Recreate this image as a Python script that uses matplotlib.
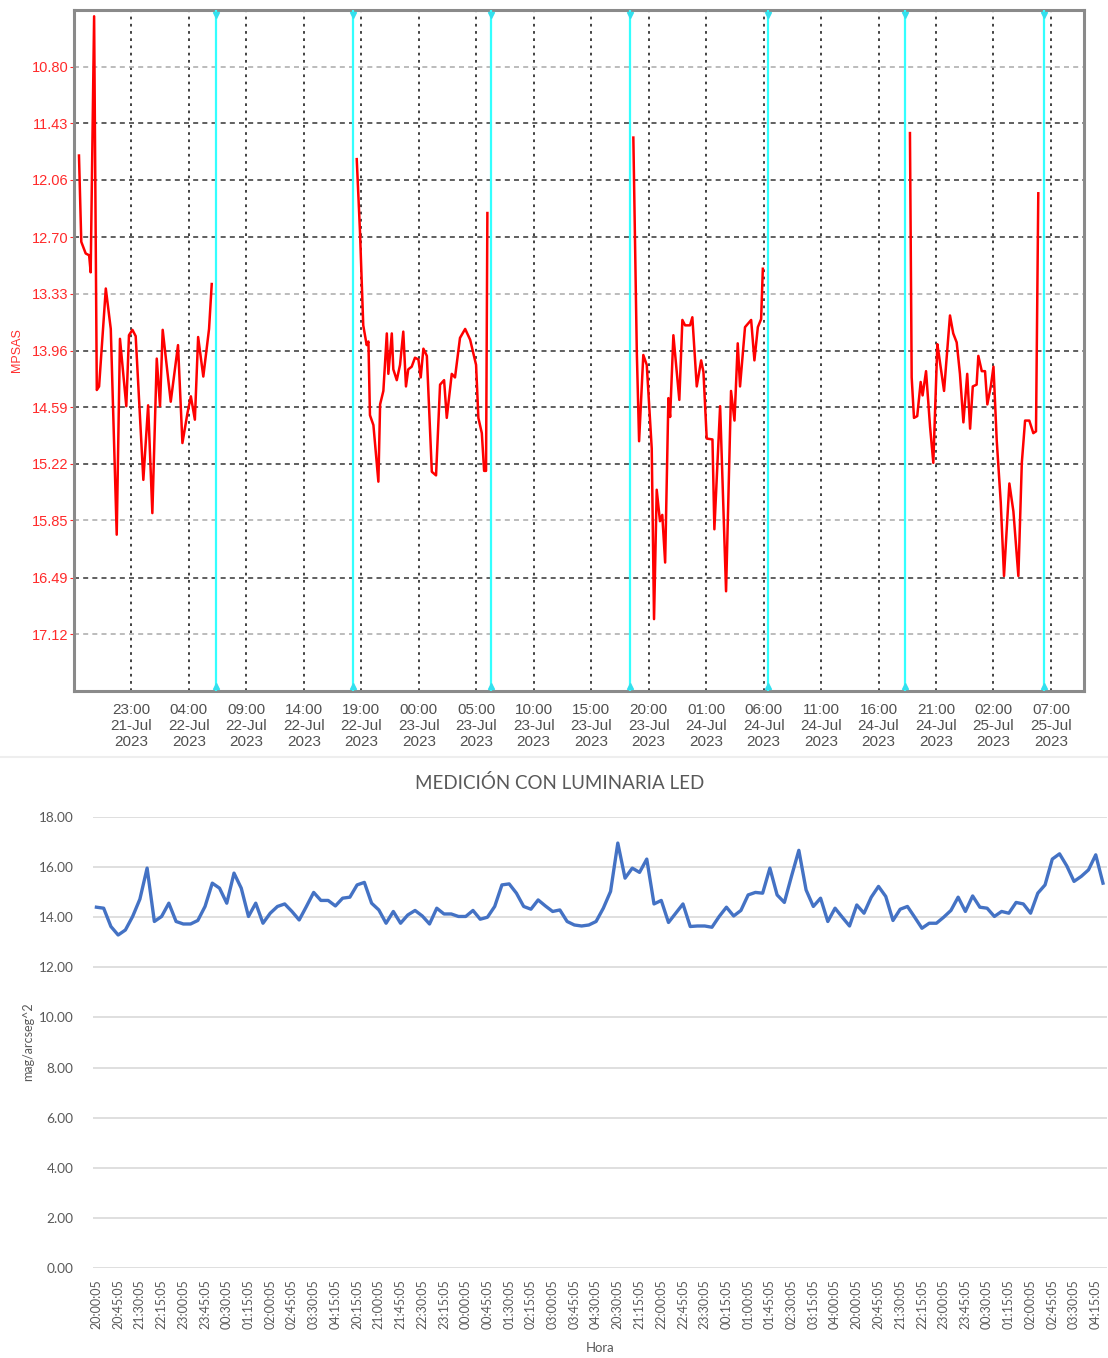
import numpy as np
import pandas as pd
import matplotlib
matplotlib.use('Agg')
import matplotlib.pyplot as plt
import matplotlib.dates as mdates

# ---------------- top panel: SQM readings per night (MPSAS) ----------------
night_dates = ['2023-07-21', '2023-07-22', '2023-07-23', '2023-07-24']

n1_time = ['18:26', '18:38', '19:01', '19:19', '19:27', '19:45', '19:59', '20:11', '20:46', '21:12',
           '21:43', '22:00', '22:33', '22:47', '23:05', '23:22', '00:02', '00:27', '00:49', '01:12',
           '01:29', '01:43', '02:25', '03:03', '03:26', '03:52', '04:10', '04:31', '04:48', '05:15',
           '05:45', '05:59']
n1_mpsas = [11.79, 12.75, 12.88, 12.90, 13.09, 10.24, 14.40, 14.36, 13.27, 13.72,
            16.01, 13.83, 14.58, 13.79, 13.73, 13.80, 15.40, 14.57, 15.77, 14.05,
            14.58, 13.73, 14.53, 13.90, 14.99, 14.66, 14.47, 14.73, 13.81, 14.25,
            13.72, 13.22]

n2_time = ['18:36', '18:53', '19:10', '19:28', '19:37', '19:45', '20:03', '20:29', '20:38', '20:55',
           '21:13', '21:21', '21:39', '21:47', '22:05', '22:22', '22:39', '22:53', '23:05', '23:23',
           '23:40', '23:58', '00:10', '00:24', '00:42', '01:08', '01:30', '01:51', '02:12', '02:26',
           '02:52', '03:09', '03:35', '04:02', '04:28', '04:59', '05:11', '05:29', '05:41', '05:51',
           '05:58']
n2_mpsas = [11.83, 12.64, 13.68, 13.90, 13.86, 14.68, 14.79, 15.42, 14.56, 14.41,
            13.77, 14.22, 13.77, 14.17, 14.29, 14.12, 13.75, 14.36, 14.17, 14.14,
            14.04, 14.06, 14.26, 13.94, 14.02, 15.31, 15.35, 14.34, 14.29, 14.71,
            14.22, 14.26, 13.82, 13.72, 13.84, 14.12, 14.71, 14.88, 15.30, 15.30,
            12.43]

n3_time = ['18:40', '18:58', '19:10', '19:32', '19:50', '20:16', '20:28', '20:42', '20:59', '21:11',
           '21:26', '21:43', '21:52', '22:09', '22:40', '22:56', '23:10', '23:36', '23:48', '00:11',
           '00:34', '00:46', '01:03', '01:33', '01:43', '02:13', '02:44', '03:10', '03:28', '03:45',
           '03:57', '04:23', '04:55', '05:12', '05:30', '05:47', '05:56']
n3_mpsas = [11.59, 13.97, 14.97, 14.01, 14.12, 15.05, 16.95, 15.51, 15.86, 15.79,
            16.32, 14.49, 14.70, 13.79, 14.51, 13.62, 13.68, 13.68, 13.59, 14.36,
            14.07, 14.20, 14.94, 14.95, 15.95, 14.58, 16.64, 14.41, 14.74, 13.88,
            14.36, 13.70, 13.62, 14.07, 13.70, 13.61, 13.05]

n4_time = ['18:44', '18:53', '19:05', '19:22', '19:40', '19:50', '20:08', '20:29', '20:46', '21:07',
           '21:16', '21:42', '22:13', '22:30', '22:48', '23:05', '23:23', '23:43', '23:58', '00:12',
           '00:32', '00:41', '00:59', '01:16', '01:28', '01:46', '02:00', '02:17', '02:38', '02:55',
           '03:23', '03:44', '04:10', '04:28', '04:45', '05:07', '05:28', '05:42', '05:54']
n4_mpsas = [11.54, 14.26, 14.71, 14.69, 14.31, 14.46, 14.19, 14.81, 15.21, 13.89,
            14.02, 14.41, 13.57, 13.77, 13.87, 14.22, 14.76, 14.22, 14.83, 14.36,
            14.34, 14.02, 14.19, 14.19, 14.56, 14.36, 14.14, 14.96, 15.65, 16.47,
            15.44, 15.75, 16.47, 15.21, 14.74, 14.74, 14.88, 14.86, 12.21]

# sunrise / sunset markers (cyan)
sun_events = ['2023-07-22 06:22', '2023-07-22 18:17', '2023-07-23 06:18', '2023-07-23 18:21',
              '2023-07-24 06:22', '2023-07-24 18:20', '2023-07-25 06:23']

mpsas_ticks = [10.80, 11.43, 12.06, 12.70, 13.33, 13.96, 14.59, 15.22, 15.85, 16.49, 17.12]

# ---------------- bottom panel: LED luminaire measurement ----------------
led_mag = [14.40, 14.36, 13.63, 13.29, 13.49, 14.03, 14.72, 15.96, 13.83, 14.03,
           14.56, 13.83, 13.73, 13.73, 13.87, 14.43, 15.36, 15.16, 14.56, 15.76,
           15.16, 14.03, 14.56, 13.76, 14.16, 14.43, 14.53, 14.23, 13.89, 14.43,
           14.99, 14.67, 14.67, 14.45, 14.76, 14.80, 15.29, 15.39, 14.56, 14.29,
           13.76, 14.23, 13.76, 14.09, 14.27, 14.05, 13.73, 14.36, 14.13, 14.13,
           14.03, 14.03, 14.27, 13.92, 14.00, 14.43, 15.29, 15.33, 14.96, 14.43,
           14.32, 14.69, 14.45, 14.23, 14.29, 13.83, 13.69, 13.65, 13.69, 13.83,
           14.36, 15.03, 16.96, 15.56, 15.96, 15.79, 16.32, 14.53, 14.67, 13.79,
           14.16, 14.53, 13.63, 13.65, 13.65, 13.60, 14.03, 14.40, 14.05, 14.27,
           14.89, 14.99, 14.96, 15.96, 14.89, 14.59, 15.65, 16.67, 15.09, 14.43,
           14.76, 13.83, 14.36, 14.00, 13.65, 14.49, 14.16, 14.80, 15.23, 14.83,
           13.87, 14.32, 14.43, 14.00, 13.56, 13.76, 13.76, 14.00, 14.27, 14.80,
           14.23, 14.85, 14.40, 14.36, 14.03, 14.23, 14.16, 14.59, 14.53, 14.16,
           14.96, 15.29, 16.32, 16.53, 16.05, 15.43, 15.63, 15.89, 16.49, 15.36]

hora_labels = ['20:00:05', '20:45:05', '21:30:05', '22:15:05', '23:00:05', '23:45:05', '00:30:05',
               '01:15:05', '02:00:05', '02:45:05', '03:30:05', '04:15:05', '20:15:05', '21:00:05',
               '21:45:05', '22:30:05', '23:15:05', '00:00:05', '00:45:05', '01:30:05', '02:15:05',
               '03:00:05', '03:45:05', '04:30:05', '20:30:05', '21:15:05', '22:00:05', '22:45:05',
               '23:30:05', '00:15:05', '01:00:05', '01:45:05', '02:30:05', '03:15:05', '04:00:05',
               '20:00:05', '20:45:05', '21:30:05', '22:15:05', '23:00:05', '23:45:05', '00:30:05',
               '01:15:05', '02:00:05', '02:45:05', '03:30:05', '04:15:05']


def night_times(date, times):
    # times after midnight belong to the next day
    out = []
    for t in times:
        ts = pd.Timestamp(date + ' ' + t)
        if ts.hour < 12:
            ts = ts + pd.Timedelta(days=1)
        out.append(ts)
    return out


fig = plt.figure(figsize=(11.08, 13.58), dpi=100)

# ---------- top chart ----------
ax1 = fig.add_axes([74 / 1108, 1 - 691 / 1358, (1083.5 - 74) / 1108, (691 - 10) / 1358])
nights = [(n1_time, n1_mpsas), (n2_time, n2_mpsas), (n3_time, n3_mpsas), (n4_time, n4_mpsas)]
for d, (tt, vv) in zip(night_dates, nights):
    ax1.plot(night_times(d, tt), vv, color='#ff0000', lw=1.8, zorder=4)

ylo, yhi = 17.75, 10.17
ax1.set_ylim(ylo, yhi)
ax1.set_xlim(pd.Timestamp('2023-07-21 18:00'), pd.Timestamp('2023-07-25 09:50'))

for s in sun_events:
    ts = pd.Timestamp(s)
    ax1.plot([ts, ts], [ylo, yhi], color='#33ffff', lw=1.6, zorder=3)
    ax1.plot([ts], [yhi + 0.06], marker='v', color='#33e0ee', ms=5, zorder=5, clip_on=False)
    ax1.plot([ts], [ylo - 0.06], marker='^', color='#33e0ee', ms=5, zorder=5, clip_on=False)

xt = pd.date_range('2023-07-21 23:00', '2023-07-25 07:00', freq='5h')
ax1.set_xticks(xt)
ax1.xaxis.set_major_formatter(mdates.DateFormatter('%H:%M\n%d-%b\n%Y'))
for t in xt:
    ax1.axvline(t, color='#333333', ls=(0, (1.5, 2.5)), lw=1.3, zorder=1)

light = [10.80, 13.33, 15.85, 17.12]
for v in mpsas_ticks:
    c = '#b0b0b0' if v in light else '#444444'
    ax1.axhline(v, color=c, ls=(0, (3, 2.5)), lw=1.2, zorder=1)
ax1.set_yticks(mpsas_ticks)
ax1.set_yticklabels(['%.2f' % v for v in mpsas_ticks])

ax1.tick_params(axis='y', colors='#ff2a2a', labelsize=10.5, length=3, pad=1)
ax1.tick_params(axis='x', colors='#555555', labelsize=11, length=0, pad=9)
for lab in ax1.get_xticklabels():
    lab.set_family('Liberation Sans')
    lab.set_linespacing(1.15)
    lab.set_color('#505050')
for lab in ax1.get_yticklabels():
    lab.set_family('Liberation Sans')
for sp in ax1.spines.values():
    sp.set_color('#8a8a8a')
    sp.set_linewidth(2.2)
fig.text(17 / 1108, 1 - 350 / 1358, 'MPSAS', rotation=90, color='#ff3030', fontsize=9,
         family='Liberation Sans', ha='center', va='center')

# thin separator between the two images
fig.add_artist(plt.Line2D([0, 1], [1 - 757 / 1358] * 2, color='#eeeeee', lw=1.5))

# ---------- bottom chart ----------
ax2 = fig.add_axes([92.8 / 1108, 1 - 1268 / 1358, (1106.6 - 92.8) / 1108, (1268 - 817) / 1358])
x = np.arange(len(led_mag))
ax2.plot(x, led_mag, color='#4472c4', lw=2.4, solid_joinstyle='round', zorder=3)
ax2.set_xlim(-0.5, len(led_mag) - 0.5)
ax2.set_ylim(0, 18)
ax2.set_yticks(np.arange(0, 19, 2))
ax2.set_yticklabels(['%.2f' % v for v in np.arange(0, 19, 2)])
ax2.set_xticks(x[::3])
ax2.set_xticklabels(hora_labels, rotation=90)
ax2.grid(axis='y', color='#d9d9d9', lw=1.2, zorder=0)
ax2.set_axisbelow(True)
for sp in ax2.spines.values():
    sp.set_visible(False)
ax2.tick_params(axis='both', length=0, colors='#595959')
ax2.tick_params(axis='y', labelsize=9.8, pad=14)
ax2.tick_params(axis='x', labelsize=9, pad=8)
for lab in ax2.get_xticklabels() + ax2.get_yticklabels():
    lab.set_family('Lato')

fig.text(560 / 1108, 1 - 783 / 1358, 'MEDICIÓN CON LUMINARIA LED', fontsize=13.5, color='#595959',
         family='Lato', ha='center', va='center')
fig.text(28 / 1108, 1 - 1042 / 1358, 'mag/arcseg^2', rotation=90, fontsize=9, color='#595959',
         family='Lato', ha='center', va='center')
fig.text(600 / 1108, 1 - 1348 / 1358, 'Hora', fontsize=9.5, color='#595959',
         family='Lato', ha='center', va='center')

fig.savefig('out.png', dpi=100, facecolor='white')
